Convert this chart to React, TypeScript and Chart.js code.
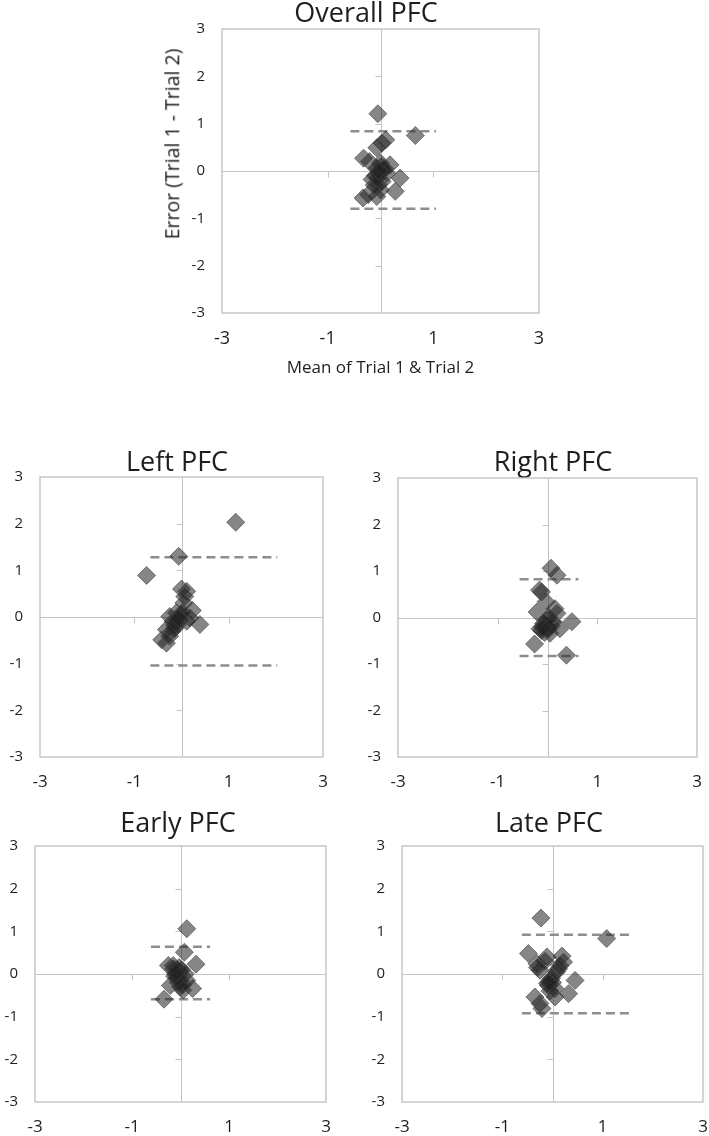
import React, { useEffect, useRef } from "react";
import { Chart, registerables } from "chart.js";

Chart.register(...registerables);

const FONT = "'Open Sans', 'Noto Sans', sans-serif";
const TEXT = "#1e1e1e";

// ---------- data (mean of trials on x, difference on y) ----------
const overallX = [-0.05, 0.66, 0.10, 0.03, -0.07, -0.32, -0.21, 0.18, 0.00, -0.07, 0.05, -0.02, 0.37, 0.28, -0.33, -0.23, -0.07, -0.16, -0.04, 0.03, -0.10, 0.00, 0.08, -0.12, 0.02, 0.12, -0.06, -0.03];
const overallY = [1.21, 0.75, 0.66, 0.59, 0.49, 0.27, 0.20, 0.13, 0.17, 0.06, 0.02, -0.05, -0.15, -0.43, -0.57, -0.50, -0.54, -0.18, -0.29, -0.22, -0.10, -0.40, 0.05, -0.30, 0.10, -0.05, -0.15, 0.00];
const overallLimitX = [-0.57, 1.05];
const overallLimitY = [0.84, -0.80];

const leftX = [1.15, -0.06, -0.74, 0.00, 0.11, 0.07, 0.23, 0.39, -0.25, -0.11, -0.18, -0.04, -0.32, -0.14, -0.42, -0.32, -0.25, 0.11, 0.18, -0.08, -0.15, -0.02, 0.05, -0.20, -0.10, 0.02, -0.12, -0.06];
const leftY = [2.03, 1.30, 0.89, 0.60, 0.55, 0.44, 0.14, -0.16, 0.01, 0.09, -0.09, -0.06, -0.27, -0.24, -0.49, -0.56, -0.41, -0.09, -0.02, -0.15, -0.18, 0.05, 0.30, -0.30, -0.05, 0.10, -0.12, -0.02];
const leftLimitX = [-0.66, 2.03];
const leftLimitY = [1.28, -1.04];

const rightX = [0.07, 0.19, -0.16, -0.12, -0.03, 0.15, 0.19, -0.21, 0.49, -0.08, 0.00, -0.15, 0.25, 0.05, -0.26, 0.38, -0.05, -0.10, 0.02, -0.02, 0.10, -0.12, -0.06, 0.03, 0.08, -0.08];
const rightY = [1.06, 0.91, 0.59, 0.55, 0.34, 0.19, 0.09, 0.12, -0.09, -0.13, -0.20, -0.24, -0.24, -0.34, -0.57, -0.81, -0.15, -0.20, -0.25, -0.05, -0.10, -0.28, -0.32, 0.00, -0.18, -0.22];
const rightLimitX = [-0.56, 0.62];
const rightLimitY = [0.82, -0.83];

const earlyX = [0.13, 0.08, 0.32, -0.25, -0.14, 0.25, 0.05, -0.21, -0.34, 0.13, -0.05, -0.02, -0.08, 0.00, -0.10, -0.05, 0.02, -0.12, 0.05, -0.03, -0.07, 0.10, 0.00, -0.15, -0.06, -0.09];
const earlyY = [1.06, 0.51, 0.23, 0.20, 0.12, -0.34, -0.38, -0.27, -0.59, -0.15, -0.05, 0.05, -0.10, -0.15, 0.00, -0.20, 0.10, -0.05, -0.25, 0.15, 0.08, 0.00, -0.30, 0.20, -0.08, 0.03];
const earlyLimitX = [-0.61, 0.61];
const earlyLimitY = [0.64, -0.59];

const lateX = [-0.23, 1.08, -0.48, -0.11, 0.19, 0.22, -0.31, -0.25, 0.12, 0.45, -0.05, -0.08, 0.05, 0.32, 0.05, -0.35, -0.25, -0.21, 0.00, -0.10, 0.15, -0.02, -0.15, -0.30, 0.08, -0.05, -0.07];
const lateY = [1.31, 0.83, 0.48, 0.40, 0.42, 0.28, 0.24, 0.09, 0.12, -0.15, -0.15, -0.27, -0.34, -0.46, -0.54, -0.54, -0.69, -0.81, -0.20, -0.22, 0.20, -0.10, 0.30, 0.15, 0.05, -0.40, -0.20];
const lateLimitX = [-0.61, 1.53];
const lateLimitY = [0.92, -0.92];

// axis settings
const axisMin = -3;
const axisMax = 3;
const xTickStep = 2;
const yTickStep = 1;

const xAxisTitle = "Mean of Trial 1 & Trial 2";
const yAxisTitle = "Error (Trial 1 - Trial 2)";

// ---------- Excel-like axis decoration ----------
const excelAxes = {
  id: "excelAxes",
  beforeDatasetsDraw(chart: any) {
    const { ctx, chartArea: a, scales } = chart;
    const sx = scales.x;
    const sy = scales.y;
    ctx.save();
    ctx.strokeStyle = "#c4c4c4";
    ctx.lineWidth = 1.4;
    ctx.strokeRect(a.left, a.top, a.right - a.left, a.bottom - a.top);
    const x0 = Math.round(sx.getPixelForValue(0)) + 0.5;
    const y0 = Math.round(sy.getPixelForValue(0)) + 0.5;
    ctx.lineWidth = 1;
    ctx.beginPath();
    ctx.moveTo(a.left, y0);
    ctx.lineTo(a.right, y0);
    ctx.moveTo(x0, a.top);
    ctx.lineTo(x0, a.bottom);
    sy.ticks.forEach((t: any) => {
      if (t.value > sy.min && t.value < sy.max && t.value !== 0) {
        const py = Math.round(sy.getPixelForValue(t.value)) + 0.5;
        ctx.moveTo(x0 - 6, py);
        ctx.lineTo(x0, py);
      }
    });
    sx.ticks.forEach((t: any) => {
      if (t.value > sx.min && t.value < sx.max && t.value !== 0) {
        const px = Math.round(sx.getPixelForValue(t.value)) + 0.5;
        ctx.moveTo(px, y0);
        ctx.lineTo(px, y0 + 6);
      }
    });
    ctx.stroke();
    ctx.restore();
  },
};

type PanelProps = {
  title: string;
  xs: number[];
  ys: number[];
  limX: number[];
  limY: number[];
  left: number;
  top: number;
  width: number;
  height: number;
  yAxisWidth: number;
  xAxisHeight: number;
  rightPad: number;
  titlePadBottom: number;
  xTickSize: number;
  showXTitle?: boolean;
};

function Panel(p: PanelProps) {
  const ref = useRef<HTMLCanvasElement | null>(null);
  useEffect(() => {
    if (!ref.current) return;
    const points = p.xs.map((x, i) => ({ x, y: p.ys[i] }));
    const limitSet = (yv: number) => ({
      data: [
        { x: p.limX[0], y: yv },
        { x: p.limX[1], y: yv },
      ],
      showLine: true,
      borderColor: "#8e8e8e",
      borderWidth: 2.5,
      borderDash: [9, 5],
      pointRadius: 0,
      fill: false,
    });
    const chart = new Chart(ref.current, {
      type: "scatter",
      data: {
        datasets: [
          {
            data: points,
            pointStyle: "rectRot",
            pointRadius: 9,
            backgroundColor: "rgba(35,35,35,0.55)",
            borderColor: "rgba(70,70,70,0.65)",
            borderWidth: 1,
          } as any,
          limitSet(p.limY[0]) as any,
          limitSet(p.limY[1]) as any,
        ],
      },
      options: {
        animation: false,
        responsive: false,
        events: [],
        layout: { padding: 0 },
        plugins: {
          legend: { display: false },
          tooltip: { enabled: false },
          title: {
            display: true,
            text: p.title,
            color: TEXT,
            font: { family: FONT, size: 27, weight: "normal", lineHeight: 1 },
            padding: { top: 0, bottom: p.titlePadBottom },
          },
        },
        scales: {
          x: {
            type: "linear",
            position: "bottom",
            min: axisMin,
            max: axisMax,
            grid: { display: false, drawTicks: false },
            border: { display: false },
            ticks: {
              stepSize: xTickStep,
              padding: 15,
              maxRotation: 0,
              autoSkip: false,
              color: TEXT,
              font: { family: FONT, size: p.xTickSize },
            },
            title: {
              display: !!p.showXTitle,
              text: xAxisTitle,
              color: TEXT,
              font: { family: FONT, size: 17 },
              padding: { top: 0, bottom: 0 },
            },
            afterFit: (s: any) => {
              s.height = p.xAxisHeight;
              s.paddingLeft = 0;
              s.paddingRight = p.rightPad;
            },
          },
          y: {
            type: "linear",
            position: "left",
            min: axisMin,
            max: axisMax,
            grid: { display: false, drawTicks: false },
            border: { display: false },
            ticks: {
              stepSize: yTickStep,
              padding: 17,
              color: TEXT,
              font: { family: FONT, size: 15 },
            },
            afterFit: (s: any) => {
              s.width = p.yAxisWidth;
              s.paddingTop = 0;
              s.paddingBottom = 0;
            },
          },
        },
      } as any,
      plugins: [excelAxes as any],
    });
    return () => chart.destroy();
  }, []);
  return (
    <div style={{ position: "absolute", left: p.left, top: p.top, width: p.width, height: p.height }}>
      <canvas ref={ref} width={p.width} height={p.height} style={{ display: "block", width: p.width, height: p.height }} />
    </div>
  );
}

export default function App() {
  return (
    <div
      style={{
        position: "absolute",
        left: 0,
        top: 0,
        width: 709,
        height: 1136,
        overflow: "hidden",
        background: "#ffffff",
      }}
    >
      <Panel
        title="Overall PFC"
        xs={overallX}
        ys={overallY}
        limX={overallLimitX}
        limY={overallLimitY}
        left={181}
        top={1}
        width={370}
        height={377}
        yAxisWidth={41}
        xAxisHeight={65}
        rightPad={12}
        titlePadBottom={1}
        xTickSize={18}
        showXTitle
      />
      <div
        style={{
          position: "absolute",
          left: 172,
          top: 144,
          transform: "translate(-50%, -50%) rotate(-90deg)",
          whiteSpace: "nowrap",
          fontFamily: FONT,
          fontSize: 19.5,
          color: TEXT,
          lineHeight: 1,
        }}
      >
        {yAxisTitle}
      </div>
      <Panel
        title="Left PFC"
        xs={leftX}
        ys={leftY}
        limX={leftLimitX}
        limY={leftLimitY}
        left={0}
        top={450}
        width={354}
        height={347}
        yAxisWidth={40}
        xAxisHeight={40}
        rightPad={31}
        titlePadBottom={0}
        xTickSize={17}
      />
      <Panel
        title="Right PFC"
        xs={rightX}
        ys={rightY}
        limX={rightLimitX}
        limY={rightLimitY}
        left={358}
        top={450}
        width={390}
        height={347}
        yAxisWidth={40}
        xAxisHeight={40}
        rightPad={51}
        titlePadBottom={1}
        xTickSize={17}
      />
      <Panel
        title="Early PFC"
        xs={earlyX}
        ys={earlyY}
        limX={earlyLimitX}
        limY={earlyLimitY}
        left={0}
        top={811}
        width={356}
        height={325}
        yAxisWidth={35}
        xAxisHeight={34}
        rightPad={30}
        titlePadBottom={8}
        xTickSize={17}
      />
      <Panel
        title="Late PFC"
        xs={lateX}
        ys={lateY}
        limX={lateLimitX}
        limY={lateLimitY}
        left={362}
        top={811}
        width={374}
        height={325}
        yAxisWidth={40}
        xAxisHeight={34}
        rightPad={33}
        titlePadBottom={8}
        xTickSize={17}
      />
    </div>
  );
}
